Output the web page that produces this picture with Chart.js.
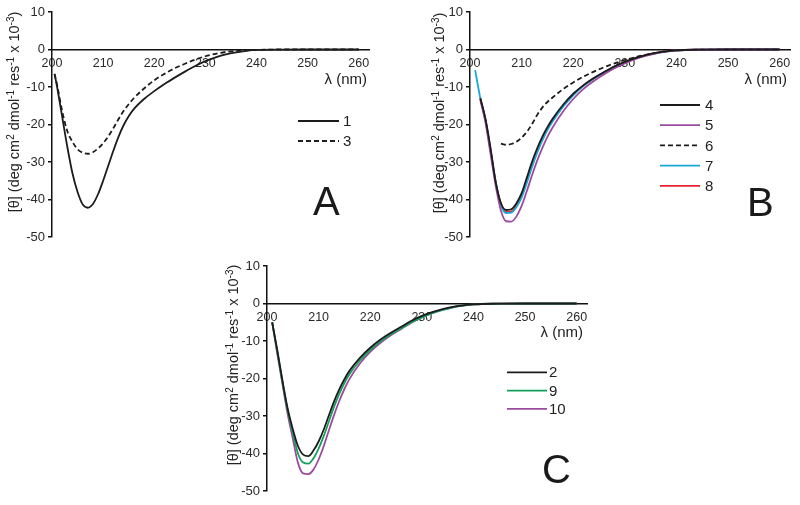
<!DOCTYPE html>
<html>
<head>
<meta charset="utf-8">
<script src="https://cdn.jsdelivr.net/npm/chart.js@4.4.1/dist/chart.umd.min.js"></script>
<style>
  body { margin: 0; background: #fff; }
  #wrap { position: relative; width: 800px; height: 505px; overflow: hidden; }
  .panel { position: absolute; }
</style>
</head>
<body>
<div id="wrap">
  <div class="panel" style="left:0;top:0;width:380px;height:250px"><canvas id="chart-a"></canvas></div>
  <div class="panel" style="left:400px;top:0;width:400px;height:250px"><canvas id="chart-b"></canvas></div>
  <div class="panel" style="left:200px;top:250px;width:400px;height:255px"><canvas id="chart-c"></canvas></div>
</div>
<script>
// ---- datos (nm / [θ] x 10^-3) ----
const xTicks = [200, 210, 220, 230, 240, 250, 260];
const yTicks = [10, 0, -10, -20, -30, -40, -50];

// Panel A
const nmA = [200.5, 201, 202, 203, 204, 205, 206, 207, 208, 209, 210, 211, 212, 213, 214, 215, 216, 218, 220, 222, 224, 226, 228, 230, 232, 234, 236, 238, 240, 245, 250, 255, 260];
const labelsA = ['1', '3'];
const a1 = [-6.5, -10, -18, -26, -33, -38, -41.3, -42.2, -41.2, -38.6, -35, -31, -27, -23.3, -20.2, -17.8, -15.9, -13.2, -11.1, -9.2, -7.5, -5.9, -4.4, -3.1, -2.1, -1.3, -0.75, -0.35, -0.12, -0.02, 0, 0, 0];
const a3 = [-6.5, -9.5, -16.5, -21.8, -24.6, -26.6, -27.5, -27.8, -27.4, -26.4, -25, -23.2, -21, -18.6, -16.4, -14.6, -13, -10.4, -8.2, -6.5, -5, -3.8, -2.7, -1.8, -1.15, -0.65, -0.35, -0.2, -0.1, 0, 0, 0, 0];

// Panel B
const nmB = [201, 202, 203, 204, 205, 206, 207, 208, 209, 210, 211, 212, 213, 214, 215, 216, 218, 220, 222, 224, 226, 228, 230, 232, 234, 236, 238, 240, 245, 250, 255, 260];
const labelsB = ['4', '5', '6', '7', '8'];
const b4 = [null, -13, -18.5, -26.5, -35.5, -41, -42.8, -42.6, -41, -38.3, -34.2, -30, -26.4, -23.3, -20.7, -18.5, -14.8, -11.8, -9.5, -7.6, -6, -4.5, -3.3, -2.3, -1.5, -0.9, -0.5, -0.2, -0.05, 0, 0, 0];
const b5 = [null, -13.5, -19.5, -28, -36.5, -43, -45.8, -45.9, -44.5, -41.7, -37.8, -33.6, -29.7, -26.3, -23.3, -20.8, -16.6, -13.2, -10.5, -8.4, -6.6, -5, -3.7, -2.6, -1.7, -1, -0.55, -0.25, -0.05, 0, 0, 0];
const b6 = [null, null, null, null, null, -25.1, -25.4, -25.2, -24.6, -23.5, -22, -19.9, -17.5, -15.5, -14, -12.8, -10.6, -8.8, -7.2, -5.9, -4.7, -3.7, -2.8, -2.05, -1.45, -0.95, -0.5, -0.2, -0.05, 0, 0, 0];
const b7 = [-5.5, -13, -18.8, -27, -35.5, -41.5, -43.6, -43.5, -42, -39.5, -35.6, -31.4, -27.6, -24.3, -21.5, -19.2, -15.3, -12.2, -9.7, -7.7, -6.1, -4.6, -3.4, -2.4, -1.6, -1, -0.55, -0.25, -0.05, 0, 0, 0];
const b8 = [null, -13, -18.8, -27, -35.5, -41.2, -43.3, -43.2, -41.6, -39, -35.1, -31, -27.2, -24, -21.2, -18.9, -15.1, -12.1, -9.6, -7.7, -6.1, -4.6, -3.3, -2.3, -1.5, -0.9, -0.5, -0.2, -0.05, 0, 0, 0];

// Panel C
const nmC = nmB;
const labelsC = ['2', '9', '10'];
const c2 = [-5, -12.5, -20.6, -28, -33.5, -38, -40.3, -40.7, -39.2, -36.8, -33.6, -29.8, -26.1, -22.9, -20.2, -17.9, -14.5, -11.8, -9.6, -7.8, -6.2, -4.6, -3.3, -2.3, -1.5, -0.9, -0.5, -0.2, -0.05, 0, 0, 0];
const c9 = [-5, -12.8, -21, -28.5, -34.5, -40, -42.4, -42.7, -41.3, -38.7, -35.3, -31.4, -27.5, -24.1, -21.2, -18.8, -15.2, -12.4, -10.1, -8.2, -6.6, -5, -3.7, -2.6, -1.7, -1, -0.55, -0.25, -0.05, 0, 0, 0];
const c10 = [-5, -13.5, -21.5, -29.5, -36, -42.5, -45.3, -45.5, -44.3, -41.6, -38, -33.8, -29.7, -26, -22.8, -20.1, -16, -12.9, -10.5, -8.5, -6.8, -5.1, -3.7, -2.6, -1.7, -1, -0.55, -0.25, -0.05, 0, 0, 0];

// ---- estilos ----
const NEGRO = '#1c1c1c', MORADO = '#9d4b9f', CIAN = '#19a9d8', ROJO = '#e6242f', VERDE = '#12a15c';
const FONT = "'Liberation Sans', Arial, sans-serif";
const yTitleParts = [['[θ] (deg cm', 0], ['2', 1], [' dmol', 0], ['-1', 1], [' res', 0], ['-1', 1], [' x 10', 0], ['-3', 1], [')', 0]];

Chart.defaults.font.family = FONT;
Chart.defaults.color = '#2a2a2a';

// Titulos, leyenda y letra del panel
const decor = {
  id: 'decor',
  afterDatasetsDraw(chart, args, o) {
    const ctx = chart.ctx;
    ctx.save();
    ctx.fillStyle = '#222';

    // titulo eje y (rotado, con superindices)
    ctx.save();
    ctx.translate(o.yTitle.x, o.yTitle.y);
    ctx.rotate(-Math.PI / 2);
    ctx.textBaseline = 'alphabetic';
    let total = 0;
    yTitleParts.forEach(([t, sup]) => {
      ctx.font = (sup ? 10 : 14.5) + 'px ' + FONT;
      total += ctx.measureText(t).width;
    });
    let x = -total / 2;
    yTitleParts.forEach(([t, sup]) => {
      ctx.font = (sup ? 10 : 14.5) + 'px ' + FONT;
      ctx.fillText(t, x, sup ? -5.5 : 0);
      x += ctx.measureText(t).width;
    });
    ctx.restore();

    // titulo eje x
    ctx.font = '15px ' + FONT;
    ctx.textAlign = 'right';
    ctx.textBaseline = 'middle';
    ctx.fillText('λ (nm)', o.xTitle.x, o.xTitle.y);

    // letra grande
    ctx.font = '40px ' + FONT;
    ctx.textAlign = 'left';
    ctx.textBaseline = 'alphabetic';
    ctx.fillStyle = '#1a1a1a';
    ctx.fillText(o.letter.text, o.letter.x, o.letter.y);

    // leyenda
    const lg = o.legend;
    ctx.font = '15px ' + FONT;
    ctx.textBaseline = 'middle';
    chart.data.datasets.forEach((ds, i) => {
      const y = lg.y + i * lg.gap;
      ctx.strokeStyle = ds.borderColor;
      ctx.lineWidth = ds.borderWidth;
      ctx.setLineDash(ds.borderDash || []);
      ctx.beginPath();
      ctx.moveTo(lg.x1, y);
      ctx.lineTo(lg.x2, y);
      ctx.stroke();
      ctx.fillStyle = '#222';
      ctx.fillText(ds.label, lg.tx, y + 1);
    });
    ctx.restore();
  }
};

function panel(id, nm, labels, values, colors, dashes, box) {
  return new Chart(document.getElementById(id), {
    type: 'line',
    data: {
      datasets: labels.map((label, i) => ({
        label,
        data: nm.map((x, k) => ({ x, y: values[i][k] })),
        borderColor: colors[i],
        borderDash: dashes[i],
        borderWidth: 1.8,
        pointRadius: 0,
        cubicInterpolationMode: 'monotone',
        fill: false
      }))
    },
    options: {
      responsive: true,
      maintainAspectRatio: false,
      animation: false,
      layout: { padding: box.pad },
      plugins: { legend: { display: false }, tooltip: { enabled: false }, decor: box.decor },
      scales: {
        x: {
          type: 'linear', min: 200, max: 262, position: { y: 0 },
          grid: { display: false, drawTicks: false },
          border: { color: '#111', width: 1.5 },
          ticks: { font: { size: 12.5 }, padding: 7, maxRotation: 0 },
          afterBuildTicks: s => { s.ticks = xTicks.map(v => ({ value: v })); }
        },
        y: {
          type: 'linear', min: -50, max: 10,
          grid: { display: true, drawOnChartArea: false, drawTicks: true, tickLength: 4, color: '#111', lineWidth: 1.5 },
          border: { color: '#111', width: 1.5 },
          ticks: { font: { size: 13 }, padding: 3 },
          afterBuildTicks: s => { s.ticks = yTicks.map(v => ({ value: v })); },
          afterFit: s => { s.width = box.yw; }
        }
      }
    },
    plugins: [decor]
  });
}

panel('chart-a', nmA, labelsA, [a1, a3], [NEGRO, NEGRO], [[], [5, 3]], {
  yw: 52, pad: { top: 12, right: 11, bottom: 13, left: 0 },
  decor: {
    yTitle: { x: 19, y: 112 }, xTitle: { x: 367, y: 80 },
    letter: { text: 'A', x: 313, y: 215 },
    legend: { x1: 298, x2: 339, tx: 343, y: 121, gap: 20 }
  }
});

panel('chart-b', nmB, labelsB, [b4, b5, b6, b7, b8], [NEGRO, MORADO, NEGRO, CIAN, ROJO], [[], [], [5, 3], [], []], {
  yw: 70, pad: { top: 12, right: 10, bottom: 13, left: 0 },
  decor: {
    yTitle: { x: 44, y: 113 }, xTitle: { x: 387, y: 80 },
    letter: { text: 'B', x: 347, y: 216 },
    legend: { x1: 260, x2: 300, tx: 305, y: 105, gap: 20.2 }
  }
});

panel('chart-c', nmC, labelsC, [c2, c9, c10], [NEGRO, VERDE, MORADO], [[], [], []], {
  yw: 67, pad: { top: 16, right: 13, bottom: 14, left: 0 },
  decor: {
    yTitle: { x: 38, y: 115 }, xTitle: { x: 383, y: 83 },
    letter: { text: 'C', x: 342, y: 233 },
    legend: { x1: 307, x2: 347, tx: 349, y: 122.3, gap: 18.3 }
  }
});
</script>
</body>
</html>
